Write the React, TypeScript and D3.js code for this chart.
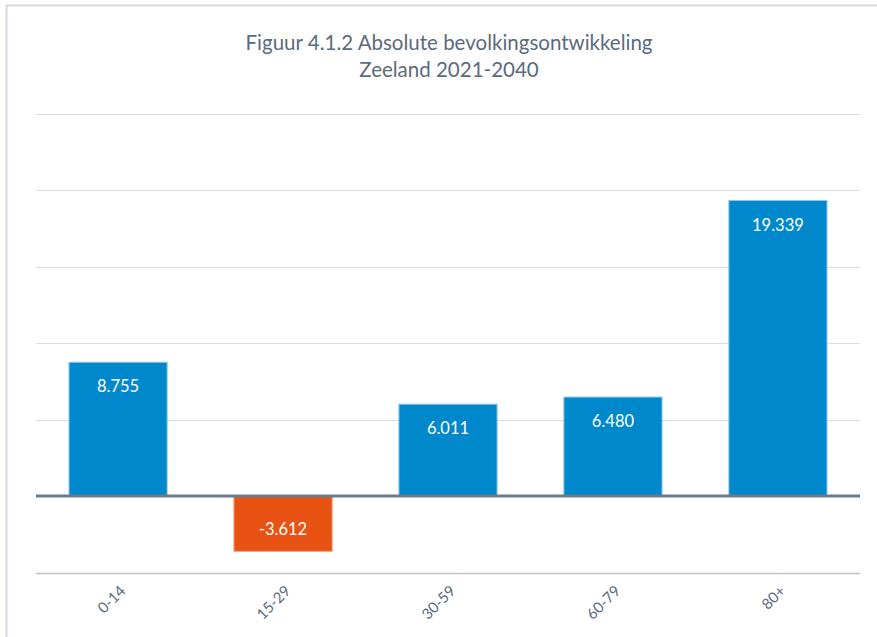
import * as React from 'react';
import { useRef, useEffect } from 'react';
import * as d3 from 'd3';

const categories = ['0-14', '15-29', '30-59', '60-79', '80+'];
const values = [8755, -3612, 6011, 6480, 19339];
const valueLabels = ['8.755', '-3.612', '6.011', '6.480', '19.339'];
const yTicks = [-5000, 0, 5000, 10000, 15000, 20000, 25000];
const titleLines = ['Figuur 4.1.2 Absolute bevolkingsontwikkeling', 'Zeeland 2021-2040'];

const W = 877;
const H = 637;
const FONT = 'Lato, "Open Sans", sans-serif';

const App = () => {
  const svgRef = useRef(null);

  useEffect(() => {
    const svg = d3.select(svgRef.current);
    svg.selectAll('*').remove();

    // chart frame (right and bottom edges run off the picture)
    svg.append('rect')
      .attr('x', 6.5)
      .attr('y', 5.5)
      .attr('width', W + 20)
      .attr('height', H + 20)
      .attr('fill', '#fff')
      .attr('stroke', '#d3d7e1')
      .attr('stroke-width', 2);

    const x = d3.scaleBand()
      .domain(categories)
      .range([36, 860])
      .paddingInner(0.405)
      .paddingOuter(0.2);

    const y = d3.scaleLinear()
      .domain([-5000, 25000])
      .range([572.5, 114]);

    // title
    svg.append('g')
      .selectAll('text')
      .data(titleLines)
      .join('text')
      .attr('x', 449)
      .attr('y', (d, i) => 50 + i * 27)
      .attr('text-anchor', 'middle')
      .attr('font-family', FONT)
      .attr('font-size', 20.5)
      .attr('fill', '#5b6b7c')
      .text(d => d);

    // gridlines
    svg.append('g')
      .selectAll('line')
      .data(yTicks.filter(t => t !== 0))
      .join('line')
      .attr('x1', 36)
      .attr('x2', 860)
      .attr('y1', d => Math.round(y(d)) + 0.5)
      .attr('y2', d => Math.round(y(d)) + 0.5)
      .attr('stroke', d => (d === -5000 ? '#bfc3c8' : '#dcdcdc'))
      .attr('stroke-width', d => (d === -5000 ? 1.5 : 1.2));

    // bars
    svg.append('g')
      .selectAll('rect')
      .data(values)
      .join('rect')
      .attr('x', (d, i) => x(categories[i]))
      .attr('width', x.bandwidth())
      .attr('y', d => y(Math.max(0, d)))
      .attr('height', d => Math.abs(y(d) - y(0)))
      .attr('fill', d => (d < 0 ? '#e85314' : '#0088cc'))
      .attr('stroke', d => (d < 0 ? '#f49a78' : '#8cc6ea'))
      .attr('stroke-width', 1);

    // zero axis line
    svg.append('line')
      .attr('x1', 36)
      .attr('x2', 860)
      .attr('y1', y(0))
      .attr('y2', y(0))
      .attr('stroke', '#6b7b8b')
      .attr('stroke-width', 3);

    // value labels
    svg.append('g')
      .selectAll('text')
      .data(values)
      .join('text')
      .attr('x', (d, i) => x(categories[i]) + x.bandwidth() / 2)
      .attr('y', d => (d >= 0 ? y(d) + 30 : y(d) - 16))
      .attr('text-anchor', 'middle')
      .attr('font-family', FONT)
      .attr('font-size', 16.5)
      .attr('fill', '#fff')
      .text((d, i) => valueLabels[i]);

    // category labels
    svg.append('g')
      .selectAll('text')
      .data(categories)
      .join('text')
      .attr('transform', d => `translate(${x(d) + x.bandwidth() / 2 + 1},${y(-5000) + 12}) rotate(-45)`)
      .attr('text-anchor', 'end')
      .attr('dy', '0.7em')
      .attr('font-family', FONT)
      .attr('font-size', 15)
      .attr('fill', '#5b6b7c')
      .text(d => d);
  }, []);

  return (
    <svg
      ref={svgRef}
      width={W}
      height={H}
      style={{ position: 'absolute', left: 0, top: 0, background: '#fff' }}
    />
  );
};

export default App;
